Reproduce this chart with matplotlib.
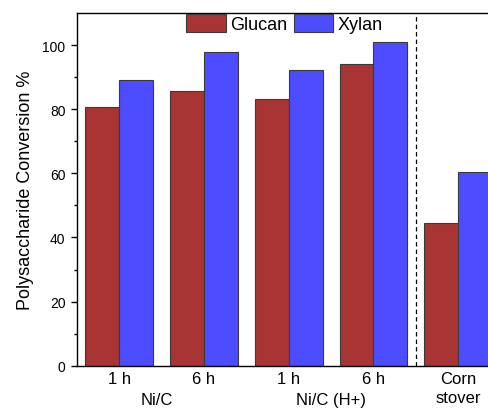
import matplotlib
matplotlib.use('Agg')
import matplotlib.pyplot as plt
import matplotlib.transforms as mtransforms
import numpy as np

plt.rcParams['font.family'] = ['Liberation Sans', 'DejaVu Sans']

# data
tick_labels = ['1 h', '6 h', '1 h', '6 h', 'Corn\nstover']
group_labels = ['Ni/C', 'Ni/C (H+)']
group_pos = [1.45, 3.5]
glucan = [80.7, 85.7, 83.1, 94.0, 44.5]
xylan = [89.2, 97.9, 92.1, 101.0, 60.5]

GLUCAN_C = '#A83434'
XYLAN_C = '#4D4DFF'
EDGE = '#3a3a3a'

W, H = 489, 410
fig = plt.figure(figsize=(W / 100, H / 100), dpi=100)
# right edge of the axes runs past the figure, like the cropped original
ax = fig.add_axes([76.7 / W, 43.3 / H, (500.6 - 76.7) / W, (366.7 - 14) / H])

x = np.arange(1, len(glucan) + 1)
bw = 0.4
ax.bar(x - bw / 2, glucan, bw, color=GLUCAN_C, edgecolor=EDGE, linewidth=0.8, label='Glucan')
ax.bar(x + bw / 2, xylan, bw, color=XYLAN_C, edgecolor=EDGE, linewidth=0.8, label='Xylan')

ax.axvline(4.5, color='black', linewidth=0.9, linestyle=(0, (3.5, 2.5)))

ax.set_xlim(0.5, 5.5)
ax.set_ylim(0, 110)
ax.set_yticks(np.arange(0, 101, 20))
ax.set_yticks(np.arange(10, 110, 20), minor=True)
ax.tick_params(axis='y', which='major', direction='out', length=4.5, width=1, labelsize=10)
ax.tick_params(axis='y', which='minor', direction='out', length=2.5, width=1)
ax.set_xticks(x)
ax.set_xticklabels(tick_labels, fontsize=12, linespacing=1.35, va='top')
ax.tick_params(axis='x', length=0, pad=4)
for lab in ax.get_xticklabels():
    if '\n' in lab.get_text():
        lab.set_va('top')

for s in ax.spines.values():
    s.set_linewidth(1.0)

ax.set_ylabel('Polysaccharide Conversion %', fontsize=13, labelpad=6)

trans = mtransforms.blended_transform_factory(ax.transData, ax.transAxes)
for gp, gl in zip(group_pos, group_labels):
    ax.text(gp, -0.075, gl, transform=trans, ha='center', va='top', fontsize=12)

leg = fig.legend(loc='upper left', bbox_to_anchor=(186 / W, (H - 15) / H), ncol=2,
                 frameon=False, fontsize=13, borderpad=0, borderaxespad=0,
                 handlelength=2.2, handleheight=1.15, handletextpad=0.25,
                 columnspacing=0.35)

fig.savefig('out.png', dpi=100)
